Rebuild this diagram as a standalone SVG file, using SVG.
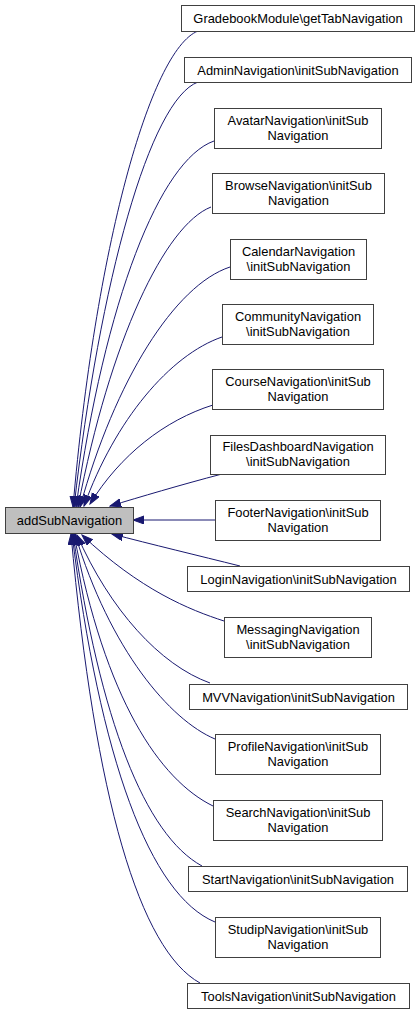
<svg xmlns="http://www.w3.org/2000/svg" width="420" height="1015" viewBox="0 0 420 1015">
<style>
.n rect{fill:#ffffff;stroke:#404040;stroke-width:1}
.n text{font-family:"Liberation Sans",Arial,sans-serif;font-size:12.9px;fill:#000;text-anchor:middle}
#root rect{fill:#bfbfbf}
.e path{fill:none;stroke:#191970;stroke-width:1;marker-end:url(#ah)}
</style>
<defs>
<marker id="ah" markerUnits="userSpaceOnUse" markerWidth="12" markerHeight="9" refX="11" refY="4" orient="auto">
<path d="M0,0 L11,4 L0,8 z" fill="#191970" stroke="#191970" stroke-width="1"/>
</marker>
</defs>
<rect width="420" height="1015" fill="#ffffff"/>
<g id="connectors" class="e">
<path d="M198,31 C150,50 95,250 73,507"/>
<path d="M198,82 C150,100 100,280 74,507"/>
<path d="M214,141 C160,160 105,300 76,507"/>
<path d="M211,207 C165,225 110,340 78,507"/>
<path d="M230,267 C175,285 115,380 80,507"/>
<path d="M222,337 C170,355 115,420 84,506"/>
<path d="M213,405 C165,420 120,455 90,504"/>
<path d="M222,474 C180,485 140,497 110,506"/>
<path d="M215,520 L133,520"/>
<path d="M240,566 C200,556 150,544 112,534"/>
<path d="M224,621 C190,610 140,590 82,535"/>
<path d="M210,683 C160,665 110,610 77,535"/>
<path d="M215,739 C170,720 110,650 75,534"/>
<path d="M213,806 C160,780 105,700 74,534"/>
<path d="M202,866 C145,835 100,720 73,534"/>
<path d="M215,922 C150,895 100,760 72,534"/>
<path d="M200,983 C140,950 95,800 71,534"/>
</g>
<g id="root" class="n"><rect x="5.5" y="507.5" width="128" height="26"/><text x="69.5" y="525">addSubNavigation</text></g>
<g id="n1" class="n"><rect x="181.5" y="5.5" width="233" height="26"/><text x="298" y="23">GradebookModule\getTabNavigation</text></g>
<g id="n2" class="n"><rect x="184.5" y="57.5" width="227" height="25"/><text x="298" y="74.5">AdminNavigation\initSubNavigation</text></g>
<g id="n3" class="n"><rect x="214.5" y="108.5" width="167" height="40"/><text x="298" y="124.5">AvatarNavigation\initSub</text><text x="298" y="139.5">Navigation</text></g>
<g id="n4" class="n"><rect x="212.5" y="173.5" width="172" height="40"/><text x="298.5" y="189.5">BrowseNavigation\initSub</text><text x="298.5" y="204.5">Navigation</text></g>
<g id="n5" class="n"><rect x="230.5" y="239.5" width="136" height="40"/><text x="298.5" y="255.5">CalendarNavigation</text><text x="298.5" y="270.5">\initSubNavigation</text></g>
<g id="n6" class="n"><rect x="222.5" y="304.5" width="151" height="40"/><text x="298" y="320.5">CommunityNavigation</text><text x="298" y="335.5">\initSubNavigation</text></g>
<g id="n7" class="n"><rect x="212.5" y="369.5" width="171" height="40"/><text x="298" y="385.5">CourseNavigation\initSub</text><text x="298" y="400.5">Navigation</text></g>
<g id="n8" class="n"><rect x="210.5" y="435.5" width="175" height="39"/><text x="298" y="451">FilesDashboardNavigation</text><text x="298" y="466">\initSubNavigation</text></g>
<g id="n9" class="n"><rect x="215.5" y="500.5" width="165" height="40"/><text x="298" y="516.5">FooterNavigation\initSub</text><text x="298" y="531.5">Navigation</text></g>
<g id="n10" class="n"><rect x="187.5" y="566.5" width="222" height="25"/><text x="298.5" y="583.5">LoginNavigation\initSubNavigation</text></g>
<g id="n11" class="n"><rect x="224.5" y="617.5" width="147" height="40"/><text x="298" y="633.5">MessagingNavigation</text><text x="298" y="648.5">\initSubNavigation</text></g>
<g id="n12" class="n"><rect x="189.5" y="684.5" width="218" height="25"/><text x="298.5" y="701.5">MVVNavigation\initSubNavigation</text></g>
<g id="n13" class="n"><rect x="215.5" y="734.5" width="165" height="40"/><text x="298" y="750.5">ProfileNavigation\initSub</text><text x="298" y="765.5">Navigation</text></g>
<g id="n14" class="n"><rect x="213.5" y="800.5" width="169" height="40"/><text x="298" y="816.5">SearchNavigation\initSub</text><text x="298" y="831.5">Navigation</text></g>
<g id="n15" class="n"><rect x="188.5" y="866.5" width="219" height="25"/><text x="298" y="883.5">StartNavigation\initSubNavigation</text></g>
<g id="n16" class="n"><rect x="215.5" y="917.5" width="165" height="40"/><text x="298" y="933.5">StudipNavigation\initSub</text><text x="298" y="948.5">Navigation</text></g>
<g id="n17" class="n"><rect x="187.5" y="983.5" width="222" height="25"/><text x="298.5" y="1000.5">ToolsNavigation\initSubNavigation</text></g>
</svg>
